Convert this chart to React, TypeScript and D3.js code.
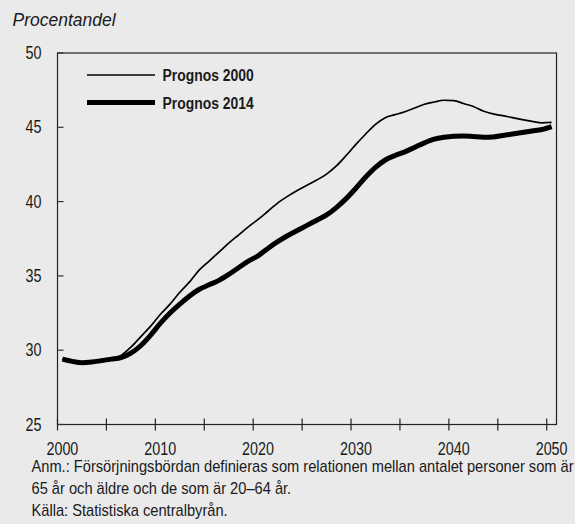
import React from "react";
import * as d3 from "d3";

const years: number[] = d3.range(2000, 2051);

const prognos2000: number[] = [
  29.4, 29.25, 29.15, 29.2, 29.3, 29.4, 29.65, 30.2, 30.9, 31.6,
  32.4, 33.1, 33.9, 34.6, 35.4, 36.0, 36.6, 37.2, 37.75, 38.3,
  38.8, 39.35, 39.9, 40.35, 40.75, 41.1, 41.45, 41.85, 42.4, 43.1,
  43.85, 44.55, 45.2, 45.65, 45.85, 46.05, 46.3, 46.55, 46.7, 46.82,
  46.8, 46.6, 46.4, 46.1, 45.9, 45.78, 45.65, 45.52, 45.4, 45.3, 45.33,
];

const prognos2014: number[] = [
  29.4, 29.25, 29.15, 29.2, 29.3, 29.4, 29.5, 29.8, 30.3, 31.0,
  31.8, 32.5, 33.1, 33.65, 34.1, 34.4, 34.7, 35.1, 35.55, 36.0,
  36.35, 36.85, 37.3, 37.7, 38.05, 38.4, 38.75, 39.1, 39.6, 40.2,
  40.9, 41.65, 42.3, 42.8, 43.1, 43.35, 43.65, 43.95, 44.2, 44.33,
  44.4, 44.42, 44.38, 44.33, 44.35, 44.45, 44.55, 44.65, 44.75, 44.85, 45.05,
];

const yTicks: number[] = [25, 30, 35, 40, 45, 50];
const xMajorTicks: number[] = [2000, 2005, 2010, 2015, 2020, 2025, 2030, 2035, 2040, 2045, 2050];
const xLabels: number[] = [2000, 2010, 2020, 2030, 2040, 2050];

const seriesNames: string[] = ["Prognos 2000", "Prognos 2014"];
const titleText = "Procentandel";
const notes: string[] = [
  "Anm.: Försörjningsbördan definieras som relationen mellan antalet personer som är",
  "65 år och äldre och de som är 20–64 år.",
  "Källa: Statistiska centralbyrån.",
];

const W = 575;
const H = 524;
const left = 57.5;
const right = 556.5;
const top = 53;
const bottom = 424.5;
const sans = "'Liberation Sans', Arial, sans-serif";

function NText(props: {
  x: number;
  y: number;
  size: number;
  sx?: number;
  anchor?: string;
  children: React.ReactNode;
}) {
  const sx = props.sx ?? 0.82;
  return (
    <text
      transform={`translate(${props.x},${props.y}) scale(${sx},1)`}
      textAnchor={props.anchor || "start"}
      fontFamily={sans}
      fontSize={props.size}
      fill="#1a1a1a"
    >
      {props.children}
    </text>
  );
}

export default function App() {
  const x = d3.scaleBand<number>().domain(years).range([left, right]).padding(0);
  const bw = x.bandwidth();
  const cx = (yr: number) => (x(yr) as number) + bw / 2;
  const y = d3.scaleLinear().domain([25, 50]).range([bottom, top]);

  const line = d3
    .line<number>()
    .x((_, i) => cx(years[i]))
    .y((d) => y(d))
    .curve(d3.curveMonotoneX);

  return (
    <svg
      width={W}
      height={H}
      style={{ position: "absolute", left: 0, top: 0, display: "block" }}
    >
      <rect x={0} y={0} width={W} height={H} fill="#eaeaea" />
      <text
        x={12.5}
        y={26}
        fontFamily={sans}
        fontStyle="italic"
        fontSize={17.5}
        fill="#1a1a1a"
      >
        {titleText}
      </text>

      {/* frame */}
      <rect
        x={left}
        y={top}
        width={right - left}
        height={bottom - top}
        fill="none"
        stroke="#222"
        strokeWidth={1.2}
      />

      {/* y ticks & labels */}
      {yTicks.map((t) => (
        <g key={"y" + t}>
          <line x1={left} x2={left + 6} y1={y(t)} y2={y(t)} stroke="#333" strokeWidth={1.2} />
          <NText x={41.5} y={y(t) + 6} size={17.5} anchor="end">
            {t}
          </NText>
        </g>
      ))}

      {/* x ticks */}
      {xMajorTicks.map((t) => (
        <line
          key={"xt" + t}
          x1={x(t) as number}
          x2={x(t) as number}
          y1={bottom - 6}
          y2={bottom + 6}
          stroke="#222"
          strokeWidth={1.2}
        />
      ))}
      {xLabels.map((t) => (
        <NText key={"xl" + t} x={cx(t)} y={454.5} size={17.5} sx={0.82} anchor="middle">
          {t}
        </NText>
      ))}

      {/* lines */}
      <path d={line(prognos2014) || ""} fill="none" stroke="#000" strokeWidth={5} strokeLinejoin="round" />
      <path d={line(prognos2000) || ""} fill="none" stroke="#000" strokeWidth={1.7} strokeLinejoin="round" />

      {/* legend */}
      <line x1={87} x2={155} y1={75} y2={75} stroke="#000" strokeWidth={1.7} />
      <line x1={87} x2={155} y1={102.5} y2={102.5} stroke="#000" strokeWidth={5} />
      <NText x={162.5} y={80.5} size={17}>
        <tspan fontWeight="bold">{seriesNames[0]}</tspan>
      </NText>
      <NText x={162.5} y={108.5} size={17}>
        <tspan fontWeight="bold">{seriesNames[1]}</tspan>
      </NText>

      {/* notes */}
      {notes.map((n, i) => (
        <NText key={"n" + i} x={31.5} y={472 + i * 22} size={17} sx={0.862}>
          {n}
        </NText>
      ))}
    </svg>
  );
}
